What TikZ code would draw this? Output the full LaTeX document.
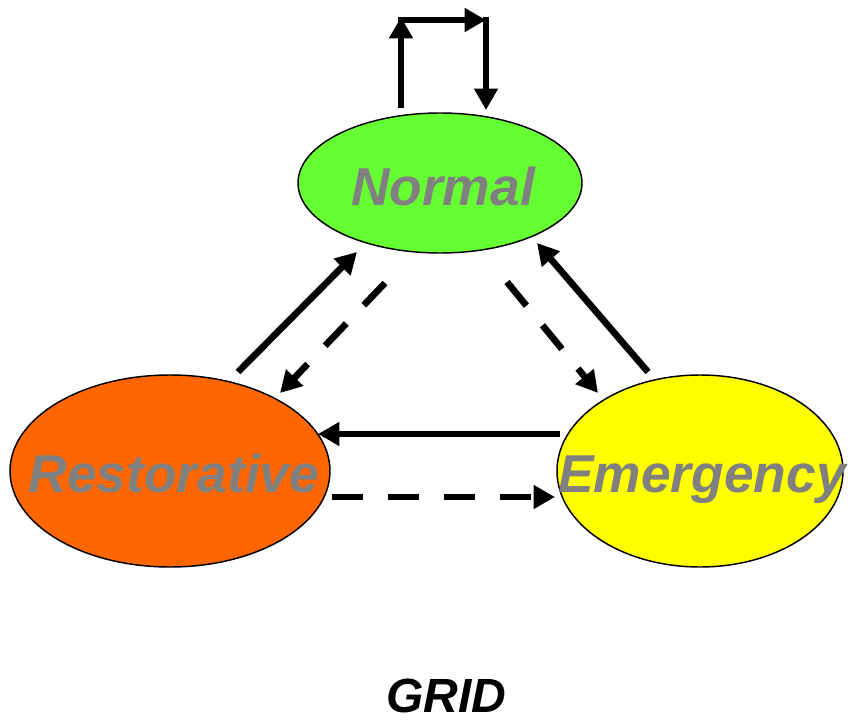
\documentclass[tikz,border=0pt]{standalone}
\usepackage{fontspec}
\setmainfont{Liberation Sans}
\usetikzlibrary{arrows.meta,shapes.geometric}
\definecolor{normalgreen}{HTML}{66FF33}
\definecolor{restorange}{HTML}{FF6600}
\definecolor{emeryellow}{HTML}{FFFF00}
\definecolor{labelgray}{HTML}{808080}
\tikzset{
  stateshape/.style={ellipse, draw=black, line width=1.1pt, inner sep=0pt},
  statelabel/.style={font=\fontsize{40}{44}\selectfont\bfseries\itshape, text=labelgray, inner sep=0pt, anchor=base},
  solidarrow/.style={line width=5pt, -{Triangle[length=16pt,width=17pt]}},
  dasharrow/.style={solidarrow, dash pattern=on 23pt off 19pt},
}
\begin{document}
\begin{tikzpicture}[x=0.75pt,y=-0.75pt]
\useasboundingbox (0,0) rectangle (848,720);
% states
\node[stateshape, fill=normalgreen, minimum width=284*0.75pt, minimum height=140*0.75pt] (normal) at (440,183) {};
\node[stateshape, fill=restorange, minimum width=320*0.75pt, minimum height=192*0.75pt] (rest) at (170,471) {};
\node[stateshape, fill=emeryellow, minimum width=286*0.75pt, minimum height=192*0.75pt] (emer) at (700,471) {};
\node[statelabel] (normaltxt) at (443,205) {Normal};
\node[statelabel] (resttxt) at (174,492) {Restorative};
\node[statelabel] (emertxt) at (702,492) {Emergency};
\node[font=\fontsize{36}{40}\selectfont\bfseries\itshape, inner sep=0pt, anchor=base] (grid) at (446,712) {GRID};
% end points
\coordinate (l1) at (401,108);
\coordinate (l2) at (401,17);
\coordinate (l3) at (398,20);
\coordinate (l4) at (486,20);
\coordinate (l5) at (486,17);
\coordinate (l6) at (486,110);
\coordinate (rn1) at (238,372);
\coordinate (rn2) at (357,252);
\coordinate (nr1) at (385,283);
\coordinate (nr2) at (280,393);
\coordinate (en1) at (648,372);
\coordinate (en2) at (537,243);
\coordinate (ne1) at (507,282);
\coordinate (ne2) at (598,393);
\coordinate (er1) at (560,434);
\coordinate (er2) at (318,434);
\coordinate (re1) at (332,497);
\coordinate (re2) at (555,497);
% self loop on Normal
\draw[solidarrow] (l1) -- (l2);
\draw[solidarrow] (l3) -- (l4);
\draw[solidarrow] (l5) -- (l6);
% transitions
\draw[solidarrow] (rn1) -- (rn2);
\draw[dasharrow] (nr1) -- (nr2);
\draw[solidarrow] (en1) -- (en2);
\draw[dasharrow] (ne1) -- (ne2);
\draw[solidarrow] (er1) -- (er2);
\draw[dasharrow] (re1) -- (re2);
\end{tikzpicture}
\end{document}
